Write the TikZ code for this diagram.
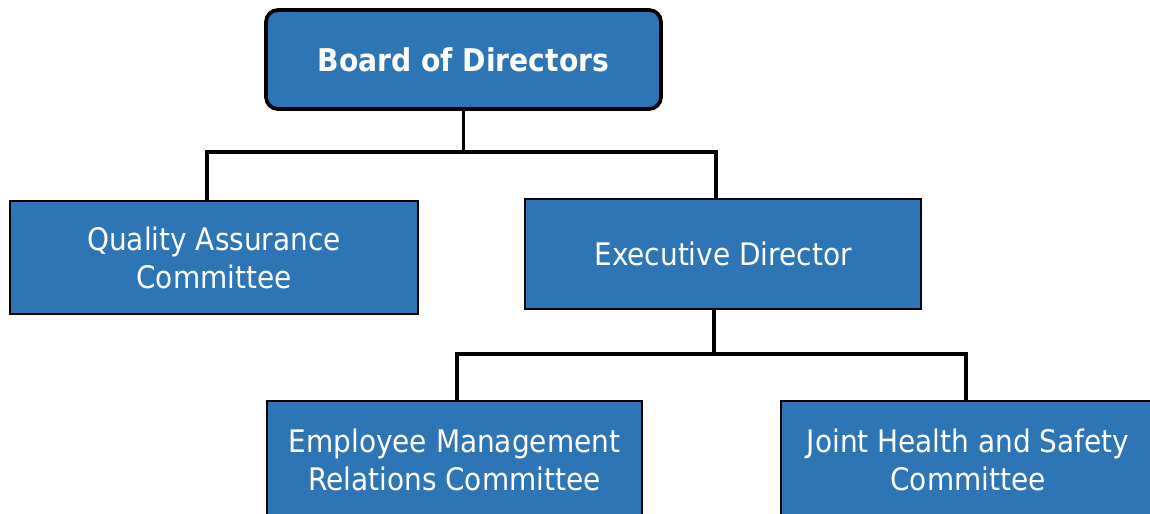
\documentclass[tikz,border=0pt]{standalone}
\usepackage{fontspec}
\setmainfont{DejaVu Sans Condensed}
\definecolor{boxblue}{HTML}{2E75B6}
\tikzset{
  orgbox/.style={draw=black, line width=1.5pt, fill=boxblue, text=white, align=center,
    inner sep=0pt, font=\fontsize{23.3}{28.5}\selectfont},
  topbox/.style={orgbox, line width=2.8pt, rounded corners=9pt, font=\fontsize{23.5}{28}\selectfont\bfseries},
  conn/.style={draw=black, line width=2.6pt, line join=miter}
}
\begin{document}
\begin{tikzpicture}[x=0.75pt,y=-0.75pt]
\useasboundingbox (0,0) rectangle (1150,514);
\clip (0,0) rectangle (1150,514);
\coordinate (b1) at (207,152);
\coordinate (b2) at (716,152);
\coordinate (c1) at (457,354);
\coordinate (c2) at (966,354);
\node[topbox, minimum width=395*0.75pt, minimum height=99*0.75pt] (bod) at (463.5,59.5) {Board of Directors};
\node[orgbox, minimum width=408*0.75pt, minimum height=113*0.75pt] (qa) at (214,257.5) {Quality Assurance\\Committee};
\node[orgbox, minimum width=396*0.75pt, minimum height=110*0.75pt] (ed) at (723,254) {Executive Director};
\node[orgbox, minimum width=375*0.75pt, minimum height=118*0.75pt] (em) at (454.5,460) {Employee Management\\Relations Committee};
\node[orgbox, minimum width=374*0.75pt, minimum height=118*0.75pt] (jh) at (968,460) {Joint Health and Safety\\Committee};
\draw[conn] (bod.south) -- (bod.south |- b1);
\draw[conn] (b1 |- qa.north) -- (b1) -- (b2) -- (b2 |- ed.north);
\draw[conn] (ed.south -| 714,0) -- (714,354);
\draw[conn] (c1 |- em.north) -- (c1) -- (c2) -- (c2 |- jh.north);
\end{tikzpicture}
\end{document}
